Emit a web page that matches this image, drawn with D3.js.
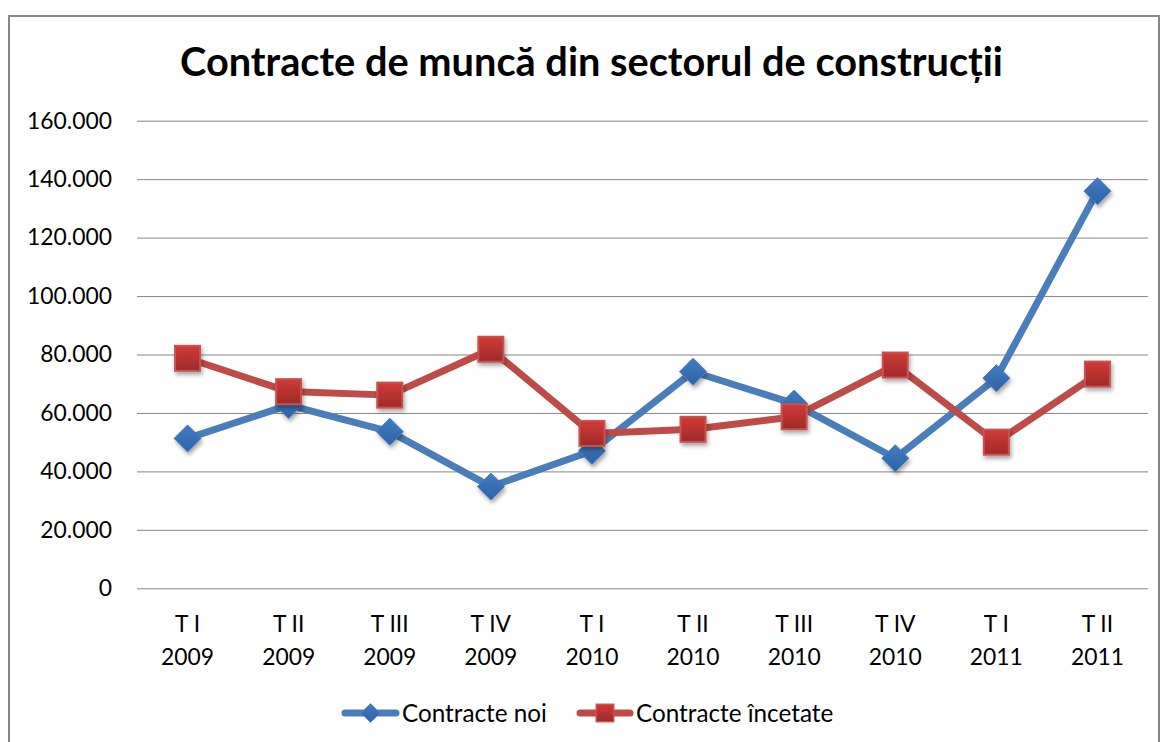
<!DOCTYPE html>
<html><head><meta charset="utf-8">
<script src="https://cdn.jsdelivr.net/npm/d3@7"></script>
<style>body{margin:0;background:#fff}svg{display:block}</style>
</head><body>
<svg id="c" width="1162" height="742"></svg>
<script>
const categories = ["T I\n2009","T II\n2009","T III\n2009","T IV\n2009","T I\n2010","T II\n2010","T III\n2010","T IV\n2010","T I\n2011","T II\n2011"];
const contracteNoi = [51300, 62700, 53600, 34800, 47000, 74100, 63200, 44500, 71900, 135900];
const contracteIncetate = [78700, 67300, 66100, 81800, 53000, 54400, 58700, 76400, 50000, 73300];
const yTicks = [0, 20000, 40000, 60000, 80000, 100000, 120000, 140000, 160000];
const seriesNames = ["Contracte noi", "Contracte încetate"];
const title = "Contracte de muncă din sectorul de construcții";

const svg = d3.select("#c");
const FONT = "Lato, 'Open Sans', sans-serif";
const m = {left:137, right:1148, top:120.7, bottom:588.3};
const x = d3.scaleBand().domain(categories).range([m.left, m.right]);
const y = d3.scaleLinear().domain([0,160000]).range([m.bottom, m.top]);
const fmt = d3.formatLocale({decimal:",", thousands:".", grouping:[3], currency:["",""]}).format(",");

function fitSize(sel, base, target){
  const w = sel.node().getComputedTextLength();
  return base*target/w;
}

// outer border
svg.append("rect").attr("x",9).attr("y",16).attr("width",1150).attr("height",740)
  .attr("fill","#fff").attr("stroke","#878787").attr("stroke-width",2);

const defs = svg.append("defs");
const f = defs.append("filter").attr("id","sh").attr("x","-50%").attr("y","-50%").attr("width","200%").attr("height","200%");
f.append("feDropShadow").attr("dx",1.5).attr("dy",3).attr("stdDeviation",2).attr("flood-color","#000").attr("flood-opacity",0.35);
const gB = defs.append("linearGradient").attr("id","gb").attr("x1",0).attr("y1",0).attr("x2",0).attr("y2",1);
gB.append("stop").attr("offset","0").attr("stop-color","#3f7cc4");
gB.append("stop").attr("offset","1").attr("stop-color","#2f62a6");
const gR = defs.append("linearGradient").attr("id","gr").attr("x1",0).attr("y1",0).attr("x2",0).attr("y2",1);
gR.append("stop").attr("offset","0").attr("stop-color","#d23a37");
gR.append("stop").attr("offset","1").attr("stop-color","#9e2a28");

// title
const t = svg.append("text").attr("x",(180+1003)/2).attr("y",76).attr("text-anchor","middle")
  .attr("font-family",FONT).attr("font-weight","bold").attr("font-size",32).attr("fill","#000").text(title);
t.attr("font-size", fitSize(t,32,823));

// font size for small text from tick label width
const probe = svg.append("text").attr("font-family",FONT).attr("font-size",20).text("160.000");
const fsTick = fitSize(probe,20,85);
probe.text("2009");
const fsCat = fitSize(probe,20,53);
probe.text(seriesNames[0]);
const fsLeg = fitSize(probe,20,145);
probe.remove();

// gridlines
const yAxis = d3.axisLeft(y).tickValues(yTicks).tickSize(-(m.right-m.left)).tickPadding(25).tickFormat(d=>fmt(d));
const ga = svg.append("g").attr("transform",`translate(${m.left},0)`).call(yAxis);
ga.select(".domain").remove();
ga.selectAll(".tick line").attr("stroke","#868686").attr("stroke-width",1);
ga.selectAll(".tick text").attr("font-family",FONT).attr("font-size",fsTick).attr("fill","#000").attr("x",-25);

// x labels
const xl = svg.append("g");
categories.forEach(c=>{
  const parts = c.split("\n");
  const cx = x(c)+x.bandwidth()/2;
  parts.forEach((p,i)=>{
    xl.append("text").attr("x",cx).attr("y",632+i*33).attr("text-anchor","middle")
      .attr("font-family",FONT).attr("font-size",fsCat).attr("fill","#000").text(p);
  });
});

const cxs = d => x(d)+x.bandwidth()/2;
const line = d3.line().x((d,i)=>cxs(categories[i])).y(d=>y(d));

function drawSeries(vals, color, marker){
  svg.append("path").datum(vals).attr("d",line).attr("fill","none").attr("stroke",color)
    .attr("stroke-width",7).attr("stroke-linejoin","round").attr("stroke-linecap","round");
  const g = svg.append("g").attr("filter","url(#sh)");
  vals.forEach((v,i)=>marker(g, cxs(categories[i]), y(v)));
}
function diamond(g,cx,cy){
  const s=13.5;
  g.append("path").attr("d",`M${cx},${cy-s}L${cx+s},${cy}L${cx},${cy+s}L${cx-s},${cy}Z`)
    .attr("fill","url(#gb)").attr("stroke","#4a7ebb").attr("stroke-width",1);
}
function square(g,cx,cy){
  const s=12.5;
  g.append("rect").attr("x",cx-s).attr("y",cy-s).attr("width",2*s).attr("height",2*s)
    .attr("fill","url(#gr)").attr("stroke","#c65350").attr("stroke-width",2);
}
drawSeries(contracteNoi, "#4a7ebb", diamond);
drawSeries(contracteIncetate, "#be4b48", square);

// legend
const lg = svg.append("g");
const items = [
  {name:seriesNames[0], color:"#4a7ebb", x0:345, x1:396, mk:diamond, tx:402},
  {name:seriesNames[1], color:"#be4b48", x0:580, x1:630, mk:square, tx:636}
];
items.forEach(it=>{
  lg.append("line").attr("x1",it.x0).attr("x2",it.x1).attr("y1",713).attr("y2",713)
    .attr("stroke",it.color).attr("stroke-width",7).attr("stroke-linecap","round");
  const mc=(it.x0+it.x1)/2;
  const mg = lg.append("g").attr("transform",`translate(${mc},713) scale(0.7) translate(${-mc},-713)`);
  it.mk(mg,mc,713);
  lg.append("text").attr("x",it.tx).attr("y",722).attr("font-family",FONT).attr("font-size",fsLeg)
    .attr("fill","#000").text(it.name);
});
</script>
</body></html>
